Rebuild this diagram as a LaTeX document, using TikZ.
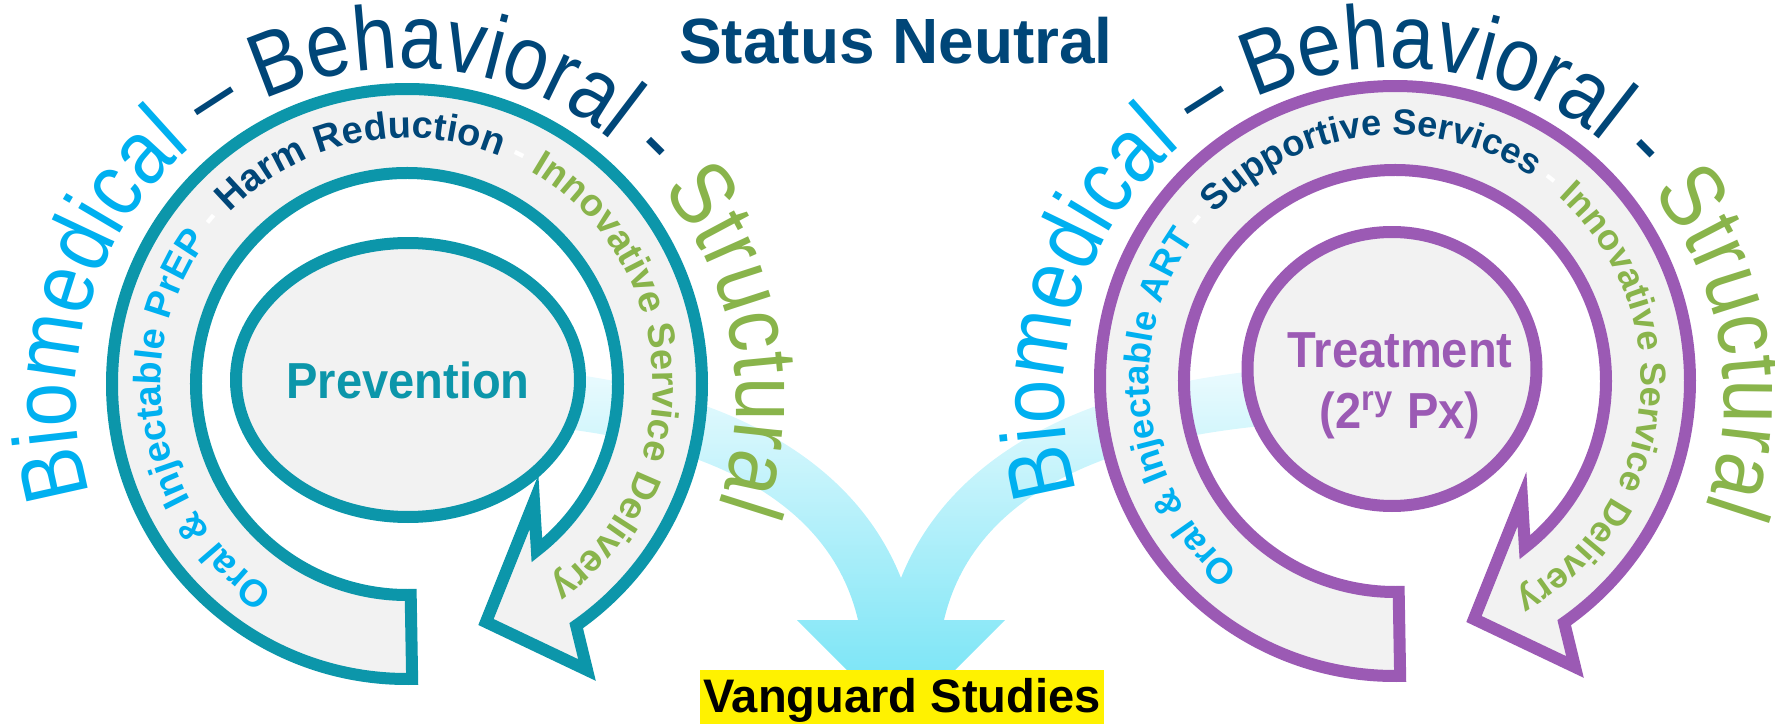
\documentclass[tikz,border=0pt]{standalone}
\usepackage{fontspec}
\setmainfont{Liberation Sans}
\newfontfamily\archfont[FakeStretch=0.86]{Liberation Sans}
\newfontfamily\hubfont[FakeStretch=0.93]{Liberation Sans}
\usetikzlibrary{shapes.geometric,decorations.text}

\definecolor{ringteal}{RGB}{12,150,170}
\definecolor{ringpurple}{RGB}{155,90,180}
\definecolor{bandgray}{RGB}{242,242,242}
\definecolor{bioblue}{RGB}{0,176,240}
\definecolor{behavnavy}{RGB}{0,70,120}
\definecolor{structgreen}{RGB}{137,180,75}
\definecolor{flowtop}{RGB}{236,251,254}
\definecolor{flowbottom}{RGB}{108,226,245}

\newcommand{\archtext}{\archfont\fontsize{25.9pt}{30pt}\selectfont}
\newcommand{\prevloop}{\bfseries\fontsize{10.8pt}{13pt}\selectfont}
\newcommand{\treatloop}{\bfseries\fontsize{10.3pt}{13pt}\selectfont}

\begin{document}
\begin{tikzpicture}[
                    x=0.1mm, y=0.1mm,
                    loopband/.style={
                        fill=bandgray,
                        line width=1.2mm,
                        line join=miter
                    },
                    hub/.style={
                        ellipse,
                        draw,
                        fill=bandgray,
                        line width=1.2mm,
                        minimum width=28.9mm,
                        minimum height=27.4mm,
                        inner sep=0pt
                    },
                    hubtext/.style={
                        font=\hubfont\bfseries\fontsize{14.4pt}{17.4pt}\selectfont,
                        align=center
                    }
                ]
                    \useasboundingbox (0,0) rectangle (1775,723);

                    % Flow into the studies
                    \shade[top color=flowtop, bottom color=flowbottom]
                        (430,302) .. controls (700,302) and (830,223) .. (858,103)
                        -- (797,103) -- (901,-1) -- (1005,103) -- (944,103)
                        .. controls (972,223) and (1102,302) .. (1372,302)
                        -- (1372,358) .. controls (1102,358) and (952,273) .. (901,145)
                        .. controls (850,273) and (700,358) .. (430,358) -- cycle;

                    % Prevention loop
                    \begin{scope}[shift={(407,339)}]
                        \draw[loopband, draw=ringteal]
                            (271:295) arc[start angle=271, end angle=-55, radius=295]
                            -- (180,-286) -- (79,-238) -- (127,-118)
                            -- (-52:211) arc[start angle=-52, end angle=271, radius=211] -- cycle;
                        \node[hub, draw=ringteal, hubtext, text=ringteal] (prev) at (1,4) {Prevention};
                        \path[decorate, decoration={text along path, text align=center,
                            text={|\prevloop\color{bioblue}|Oral {\&} Injectable PrEP |\prevloop\color{white}|- |\prevloop\color{behavnavy}|Harm Reduction |\prevloop\color{white}|- |\prevloop\color{structgreen}|Innovative Service Delivery}}]
                            (241:246) arc[start angle=241, end angle=-58.3, radius=246];
                        \path[decorate, decoration={text along path, text align=center,
                            text={|\archtext\color{bioblue}|Biomedical |\archtext\color{behavnavy}|{–} Behavioral - |\archtext\color{structgreen}|Structural}}]
                            ([shift={(201:330)}]-1,-14) arc[start angle=201, end angle=-23, radius=330];
                    \end{scope}

                    % Treatment loop
                    \begin{scope}[shift={(1395,342)}]
                        \draw[loopband, draw=ringpurple]
                            (271:295) arc[start angle=271, end angle=-55, radius=295]
                            -- (180,-286) -- (79,-238) -- (127,-118)
                            -- (-52:211) arc[start angle=-52, end angle=271, radius=211] -- cycle;
                        \node[hub, draw=ringpurple] (treat) at (-3,12) {};
                        \node[hubtext, text=ringpurple] (treatlbl) at ([shift={(0.8mm,-1.7mm)}]treat.center) {Treatment\\(2\textsuperscript{ry} Px)};
                        \path[decorate, decoration={text along path, text align=center,
                            text={|\treatloop\color{bioblue}|Oral {\&} Injectable ART |\treatloop\color{white}|- |\treatloop\color{behavnavy}|Supportive Services |\treatloop\color{white}|- |\treatloop\color{structgreen}|Innovative Service Delivery}}]
                            (235:246) arc[start angle=235, end angle=-65, radius=246];
                        \path[decorate, decoration={text along path, text align=center,
                            text={|\archtext\color{bioblue}|Biomedical |\archtext\color{behavnavy}|{–} Behavioral - |\archtext\color{structgreen}|Structural}}]
                            ([shift={(201:330)}]-1,-17) arc[start angle=201, end angle=-24, radius=330];
                    \end{scope}

                    % Titles
                    \node[font=\bfseries\fontsize{18.2pt}{22pt}\selectfont, text=behavnavy, anchor=base] (status) at (896,659) {Status Neutral};
                    \node[fill=yellow, font=\bfseries\fontsize{13.4pt}{16pt}\selectfont, anchor=base,
                        inner xsep=0.3mm, inner ysep=0.8mm] (vanguard) at (902,11) {Vanguard Studies};
                \end{tikzpicture}
\end{document}
